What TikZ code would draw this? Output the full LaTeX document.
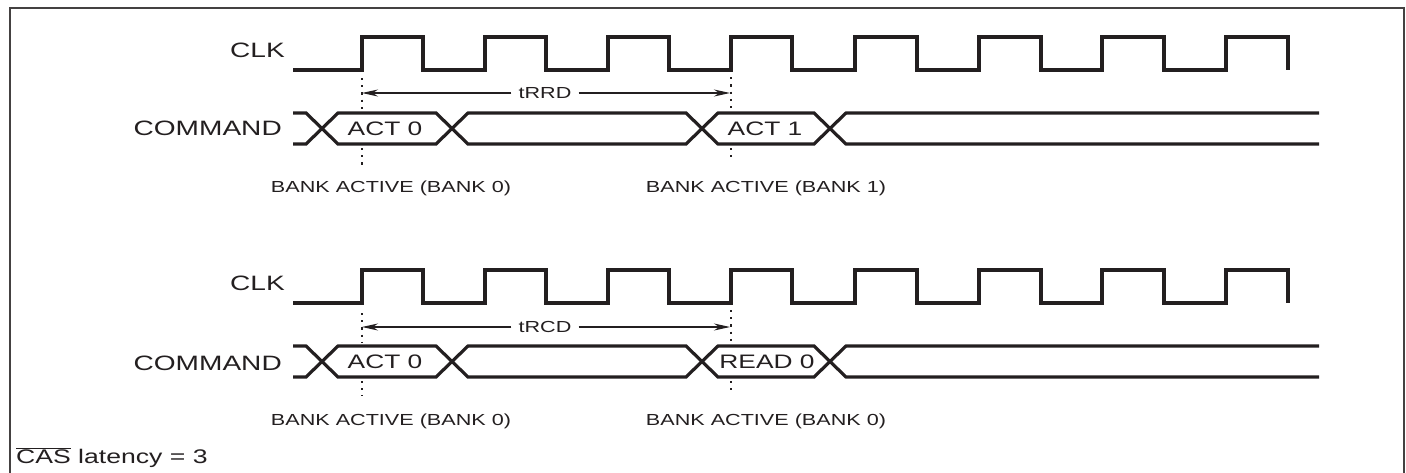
\documentclass[tikz,border=0pt]{standalone}
\usepackage{fontspec}
\setmainfont{Liberation Sans}[FakeStretch=1.35]
\usetikzlibrary{arrows.meta}
\definecolor{ink}{RGB}{35,31,32}
\newcommand\tdBig{\fontsize{20.8}{24}\selectfont}
\newcommand\tdCmd{\fontsize{19.5}{23}\selectfont}
\newcommand\tdSmall{\fontsize{16}{19}\selectfont}
\newcommand\tdCas{\fontsize{19.7}{23}\selectfont}
\tikzset{
  clockwave/.pic={
    \draw[clk] (0,0) -- (69,0) -- (69,-33) -- (130,-33) -- (130,0) -- (192,0) -- (192,-33)
      -- (253,-33) -- (253,0) -- (315,0) -- (315,-33) -- (376,-33) -- (376,0) -- (438,0)
      -- (438,-33) -- (499,-33) -- (499,0) -- (562,0) -- (562,-33) -- (624,-33) -- (624,0)
      -- (686,0) -- (686,-33) -- (748,-33) -- (748,0) -- (809,0) -- (809,-33) -- (871,-33)
      -- (871,0) -- (933,0) -- (933,-33) -- (995,-33) -- (995,0);
  },
  buswave/.pic={
    \draw[bus] (0,0) -- (13,0) -- (45,31) -- (143,31) -- (175,0) -- (393,0) -- (425,31)
      -- (521,31) -- (553,0) -- (1026,0);
    \draw[bus] (0,31) -- (13,31) -- (45,0) -- (143,0) -- (175,31) -- (393,31) -- (425,0)
      -- (521,0) -- (553,31) -- (1026,31);
  }
}
\begin{document}
\begin{tikzpicture}[x=1pt,y=-1pt,
  clk/.style={line width=4pt, draw=ink},
  bus/.style={line width=3.2pt, draw=ink},
  sig/.style={font=\tdBig, anchor=east, inner sep=0pt, text=ink},
  cmd/.style={font=\tdCmd, inner sep=0pt, text=ink},
  note/.style={font=\tdSmall, anchor=base, inner sep=0pt, text=ink},
  guide/.style={line width=2.2pt, draw=ink, dash pattern=on 2.2pt off 5pt},
  dim/.style={line width=1.1pt, draw=ink, -{Stealth[length=16pt,width=7pt]}},
  dimlabel/.style={font=\tdSmall, inner xsep=7pt, inner ysep=0pt, text=ink}
]
\useasboundingbox (0,0) rectangle (1406,472);
\draw[line width=2.5pt, draw=ink!85] (10,490) -- (10,8) -- (1404,8) -- (1404,490);

% ---------- upper diagram (tRRD) ----------
\node[sig] (clkA) at (285,50) {CLK};
\node[sig] (cmdA) at (282,128) {COMMAND};
\pic at (293,70) {clockwave};
\pic at (293,113) {buswave};
\node[cmd] (act0A) at (385,129) {ACT 0};
\node[cmd] (act1A) at (765,129) {ACT 1};

\coordinate (gA1t) at (362,78);  \coordinate (gA1u) at (362,110);
\coordinate (gA1l) at (362,148); \coordinate (gA1b) at (362,168);
\coordinate (gA2t) at (731,70);  \coordinate (gA2u) at (731,110);
\coordinate (gA2l) at (731,148); \coordinate (gA2b) at (731,159);
\coordinate (gA1m) at (362,93);  \coordinate (gA2m) at (730,93);
\draw[guide] (gA1t) -- (gA1u);
\draw[guide] (gA1l) -- (gA1b);
\draw[guide] (gA2t) -- (gA2u);
\draw[guide] (gA2l) -- (gA2b);
\node[dimlabel] (trrd) at (545,93) {tRRD};
\draw[dim] (trrd.west) -- (gA1m);
\draw[dim] (trrd.east) -- (gA2m);

\node[note] (bankA0) at (391,192) {BANK ACTIVE (BANK 0)};
\node[note] (bankA1) at (766,192) {BANK ACTIVE (BANK 1)};

% ---------- lower diagram (tRCD) ----------
\node[sig] (clkB) at (285,283) {CLK};
\node[sig] (cmdB) at (282,363) {COMMAND};
\pic at (293,303) {clockwave};
\pic at (293,346) {buswave};
\node[cmd] (act0B) at (385,362) {ACT 0};
\node[cmd] (read0B) at (767,362) {READ 0};

\coordinate (gB1t) at (362,313); \coordinate (gB1u) at (362,343);
\coordinate (gB1l) at (362,381); \coordinate (gB1b) at (362,396);
\coordinate (gB2t) at (731,310); \coordinate (gB2u) at (731,343);
\coordinate (gB2l) at (731,381); \coordinate (gB2b) at (731,393);
\coordinate (gB1m) at (362,327); \coordinate (gB2m) at (730,327);
\draw[guide] (gB1t) -- (gB1u);
\draw[guide] (gB1l) -- (gB1b);
\draw[guide] (gB2t) -- (gB2u);
\draw[guide] (gB2l) -- (gB2b);
\node[dimlabel] (trcd) at (545,327) {tRCD};
\draw[dim] (trcd.west) -- (gB1m);
\draw[dim] (trcd.east) -- (gB2m);

\node[note] (bankB0) at (391,425) {BANK ACTIVE (BANK 0)};
\node[note] (bankB1) at (766,425) {BANK ACTIVE (BANK 0)};

\node[anchor=base west, font=\tdCas, inner sep=0pt, text=ink] (cas) at (16,463)
  {$\overline{\mbox{CAS}}$ latency = 3};
\end{tikzpicture}
\end{document}
